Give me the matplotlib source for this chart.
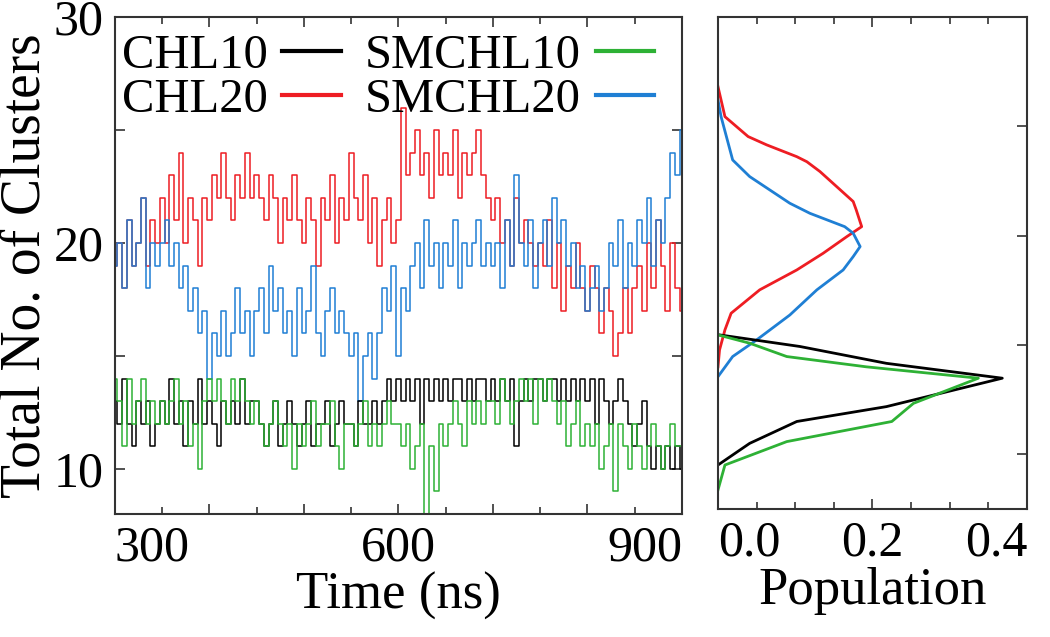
import numpy as np
import matplotlib
matplotlib.use("Agg")
from matplotlib import pyplot as plt

plt.rcParams['font.family'] = ['Liberation Serif', 'DejaVu Serif']

# time grid: one sample every 5 ns from 300 to 900 ns
t_start, t_step = 300, 5

chl10 = [13, 12, 14, 12, 11, 13, 12, 13, 11, 12,
         13, 12, 14, 12, 13, 11, 13, 12, 14, 12,
         13, 12, 11, 13, 12, 13, 12, 14, 12, 13,
         13, 12, 11, 12, 13, 11, 12, 13, 12, 11,
         12, 13, 11, 12, 12, 13, 11, 12, 13, 12,
         12, 11, 13, 12, 12, 13, 12, 13, 14, 13,
         14, 13, 14, 13, 14, 12, 14, 13, 14, 13,
         14, 13, 14, 14, 13, 14, 13, 14, 14, 13,
         14, 13, 14, 13, 14, 11, 13, 14, 13, 14,
         14, 13, 14, 14, 13, 14, 13, 14, 13, 14,
         13, 14, 12, 14, 13, 12, 13, 14, 13, 12,
         11, 12, 13, 11, 10, 11, 10, 11, 10, 11,
         10]
chl20 = [19, 20, 18, 21, 19, 20, 22, 19, 21, 20,
         22, 20, 23, 21, 24, 20, 22, 21, 19, 22,
         21, 23, 22, 24, 22, 21, 23, 22, 24, 22,
         23, 22, 21, 23, 22, 20, 22, 21, 23, 21,
         20, 22, 21, 19, 22, 21, 23, 20, 22, 21,
         24, 22, 21, 23, 20, 22, 19, 21, 22, 20,
         21, 26, 23, 24, 25, 23, 24, 22, 25, 23,
         24, 23, 25, 22, 24, 23, 24, 25, 23, 22,
         21, 22, 20, 21, 19, 22, 20, 21, 20, 19,
         20, 19, 21, 18, 20, 17, 19, 18, 20, 18,
         17, 19, 18, 16, 18, 17, 15, 16, 18, 16,
         18, 19, 17, 20, 18, 21, 19, 17, 20, 18,
         17]
smchl10 = [14, 13, 11, 14, 12, 13, 14, 12, 13, 12,
           13, 12, 13, 14, 12, 13, 11, 12, 10, 13,
           14, 13, 14, 13, 12, 14, 13, 14, 13, 12,
           13, 12, 11, 12, 13, 12, 11, 12, 10, 12,
           11, 12, 13, 11, 12, 12, 13, 11, 10, 12,
           12, 11, 12, 13, 11, 12, 11, 12, 13, 12,
           12, 11, 12, 10, 11, 12, 8, 11, 9, 12,
           11, 12, 13, 12, 11, 13, 12, 13, 12, 13,
           13, 12, 14, 13, 12, 13, 14, 13, 14, 12,
           14, 13, 14, 13, 12, 13, 11, 12, 13, 11,
           12, 11, 12, 10, 11, 12, 9, 12, 11, 10,
           12, 11, 10, 11, 12, 11, 10, 11, 12, 11,
           11]
smchl20 = [19, 20, 18, 21, 19, 20, 22, 18, 20, 19,
           20, 21, 19, 20, 18, 19, 17, 18, 16, 17,
           14, 16, 15, 17, 15, 16, 18, 16, 17, 15,
           17, 18, 16, 19, 17, 18, 16, 17, 15, 18,
           16, 17, 19, 16, 15, 17, 18, 16, 17, 16,
           15, 16, 13, 15, 16, 14, 16, 18, 17, 19,
           15, 18, 17, 19, 20, 18, 21, 19, 20, 18,
           20, 19, 21, 18, 20, 19, 20, 21, 19, 20,
           19, 20, 18, 21, 19, 23, 20, 19, 21, 18,
           20, 21, 19, 22, 20, 21, 19, 20, 18, 19,
           17, 18, 19, 17, 18, 20, 19, 21, 18, 20,
           19, 21, 20, 22, 19, 21, 20, 22, 24, 23,
           25]

# population distributions (population, number of clusters)
pop_chl10 = [0.002, 0.106, 0.218, 0.368, 0.218, 0.102, 0.041, 0.0]
nc_chl10 = [15.46, 14.93, 14.16, 13.48, 12.18, 11.5, 10.5, 9.51]
pop_chl20 = [0.0, 0.009, 0.039, 0.063, 0.102, 0.115, 0.132, 0.175, 0.179, 0.186,
             0.167, 0.136, 0.102, 0.054, 0.017, 0.009, 0.002, 0.0]
nc_chl20 = [26.81, 25.44, 24.53, 24.15, 23.61, 23.38, 22.93, 21.56, 21.17, 20.41,
            19.96, 19.19, 18.43, 17.52, 16.45, 15.69, 14.77, 14.0]
pop_smchl10 = [0.0, 0.041, 0.089, 0.192, 0.337, 0.253, 0.225, 0.089, 0.009, 0.0]
nc_smchl10 = [15.46, 15.08, 14.47, 14.0, 13.48, 12.33, 11.5, 10.58, 9.51, 8.37]
pop_smchl20 = [0.0, 0.004, 0.019, 0.041, 0.093, 0.119, 0.164, 0.175, 0.184, 0.175,
               0.162, 0.128, 0.093, 0.050, 0.019, 0.0]
nc_smchl20 = [26.2, 25.44, 23.46, 22.7, 21.48, 21.02, 20.41, 20.11, 19.5, 19.04,
              18.43, 17.52, 16.37, 15.23, 14.47, 13.55]

labels = ["CHL10", "CHL20", "SMCHL10", "SMCHL20"]
colors = ["black", "#ee1d23", "#2eb135", "#1f7fd4"]

fig = plt.figure(figsize=(10.5, 6.37), dpi=100)
ax1 = fig.add_axes([0.1095, 0.193, 0.540, 0.780])
ax2 = fig.add_axes([0.6838, 0.201, 0.2943, 0.7724])

time = t_start + t_step * np.arange(len(chl10))
series = [chl10, chl20, smchl10, smchl20]
lines = {}
for i in [1, 3, 0, 2]:
    ln, = ax1.plot(time, series[i], drawstyle="steps-mid", color=colors[i], lw=1.1)
    lines[i] = ln

ax1.set_xlim(300, 900)
ax1.set_ylim(8, 30)
ax1.set_xticks(range(300, 901, 100))
ax1.set_xticklabels(["300", "", "", "600", "", "", "900"])
ax1.set_xticks(range(350, 900, 100), minor=True)
ax1.set_yticks([10, 15, 20, 25, 30])
ax1.set_yticklabels(["10", "", "20", "", "30"])
xl = ax1.get_xticklabels()
xl[0].set_ha("left")
xl[-1].set_ha("right")
ax1.tick_params(which="both", direction="in", top=True, right=True,
                labelsize=36, width=1.2, color="#333333")
ax1.tick_params(which="major", length=7, pad=8)
ax1.tick_params(which="minor", length=5)
ax1.set_xlabel("Time (ns)", fontsize=38, labelpad=0)
ax1.set_ylabel("Total No. of Clusters", fontsize=40, labelpad=2)

ax1.legend([lines[0], lines[1], lines[2], lines[3]], labels, ncol=2,
           markerfirst=False, frameon=False, loc="upper left",
           bbox_to_anchor=(-0.022, 1.005), fontsize=35, handlelength=1.2,
           handletextpad=0.3, columnspacing=0.5, labelspacing=0.0,
           borderaxespad=0.0)
for h in ax1.get_legend().get_lines():
    h.set_linewidth(3.0)

pops = [pop_chl10, pop_chl20, pop_smchl10, pop_smchl20]
ncs = [nc_chl10, nc_chl20, nc_smchl10, nc_smchl20]
for i in [1, 3, 0, 2]:
    ax2.plot(pops[i], ncs[i], color=colors[i], lw=2.0)

ax2.set_xlim(0, 0.4)
ax2.set_ylim(7.5, 30)
ax2.set_xticks([0.0, 0.2, 0.4])
ax2.set_xticklabels(["0.0", "0.2", "0.4"])
ax2.set_xticks([0.05, 0.1, 0.15, 0.25, 0.3, 0.35], minor=True)
ax2.set_yticks([10, 15, 20, 25])
ax2.set_yticks([], minor=True)
xl2 = ax2.get_xticklabels()
xl2[0].set_ha("left")
xl2[-1].set_ha("right")
ax2.tick_params(which="both", direction="in", top=True, right=True, left=False,
                labelleft=False, labelsize=36, width=1.2, color="#333333")
ax2.tick_params(which="major", length=7, pad=8)
ax2.tick_params(which="minor", length=5)
ax2.set_xlabel("Population", fontsize=38, labelpad=0)

for ax in (ax1, ax2):
    for sp in ax.spines.values():
        sp.set_linewidth(1.5)
        sp.set_color("#333333")

fig.savefig("out.png", dpi=100)
